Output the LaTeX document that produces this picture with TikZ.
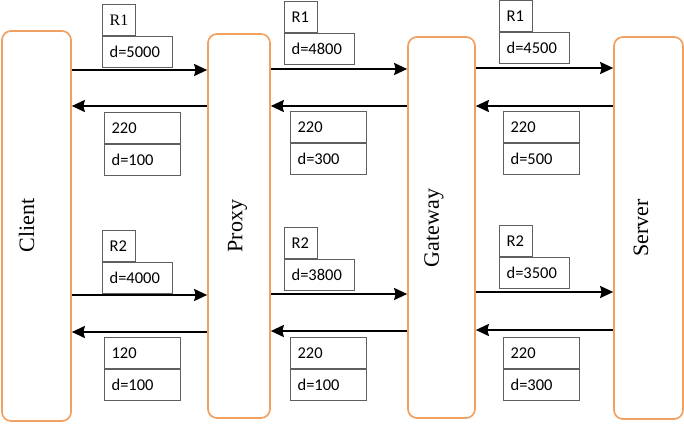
\documentclass[tikz,border=0pt]{standalone}
\usepackage{fontspec}
\setmainfont{Liberation Serif}
\newfontfamily\boxfont{Carlito}
\usetikzlibrary{arrows.meta}
\definecolor{laneorange}{RGB}{240,160,96}
\definecolor{boxgray}{RGB}{95,95,95}

\begin{document}
\begin{tikzpicture}[x=1pt, y=-1pt, >={Stealth[length=13pt, width=12pt, inset=1.5pt]},
    lane/.style={draw=laneorange, line width=1.7pt, rounded corners=9pt, inner sep=0pt},
    lanelabel/.style={rotate=90, inner sep=0pt, font=\fontsize{22}{26}\selectfont},
    msgbox/.style={draw=boxgray, line width=1.2pt, minimum height=31pt, inner xsep=7pt, inner ysep=0pt, align=left, font=\boxfont\fontsize{16.5}{19}\selectfont},
    tag/.style={msgbox, text width=19pt},
    req/.style={msgbox, text width=56pt},
    resp/.style={msgbox, text width=62pt},
    msg/.style={->, line width=2pt}]
    \useasboundingbox (0,0) rectangle (684,423);

    % Define lanes
    \node[lane, minimum width=69pt, minimum height=390pt] (client) at (36.5, 226) {};
    \node[lane, minimum width=62pt, minimum height=384pt] (proxy) at (239, 226) {};
    \node[lane, minimum width=67pt, minimum height=381pt] (gateway) at (441.5, 227.5) {};
    \node[lane, minimum width=69pt, minimum height=382pt] (server) at (648.5, 228) {};
    \node[lanelabel] (clientname) at (26.5, 225.5) {Client};
    \node[lanelabel] (proxyname) at (237.5, 226) {Proxy};
    \node[lanelabel] (gatewayname) at (434, 228) {Gateway};
    \node[lanelabel] (servername) at (641, 228) {Server};

    % Draw messages, first request
    \draw[msg] (client.east |- 0,70) -- (proxy.west |- 0,70); % Client -> Proxy
    \draw[msg] (proxy.east |- 0,69) -- (gateway.west |- 0,69); % Proxy -> Gateway
    \draw[msg] (gateway.east |- 0,68) -- (server.west |- 0,68); % Gateway -> Server
    \draw[msg] (proxy.west |- 0,106) -- (client.east |- 0,106); % Proxy -> Client
    \draw[msg] (gateway.west |- 0,106) -- (proxy.east |- 0,106); % Gateway -> Proxy
    \draw[msg] (server.west |- 0,106) -- (gateway.east |- 0,106); % Server -> Gateway

    % Draw messages, second request
    \draw[msg] (client.east |- 0,295) -- (proxy.west |- 0,295); % Client -> Proxy
    \draw[msg] (proxy.east |- 0,294) -- (gateway.west |- 0,294); % Proxy -> Gateway
    \draw[msg] (gateway.east |- 0,292) -- (server.west |- 0,292); % Gateway -> Server
    \draw[msg] (proxy.west |- 0,332) -- (client.east |- 0,332); % Proxy -> Client
    \draw[msg] (gateway.west |- 0,331) -- (proxy.east |- 0,331); % Gateway -> Proxy
    \draw[msg] (server.west |- 0,330) -- (gateway.east |- 0,330); % Server -> Gateway

    % Labels, first request
    \node[req, anchor=north west] (d1a) at (102, 36) {d=5000};
    \node[tag, anchor=south west, font=\fontsize{16}{19}\selectfont] (r1a) at (d1a.north west) {R1};
    \node[req, anchor=north west] (d1b) at (284, 33) {d=4800};
    \node[tag, anchor=south west] (r1b) at (d1b.north west) {R1};
    \node[req, anchor=north west] (d1c) at (499, 32) {d=4500};
    \node[tag, anchor=south west] (r1c) at (d1c.north west) {R1};
    \node[resp, anchor=north west] (s1a) at (104, 112) {220};
    \node[resp, anchor=north west] (t1a) at (s1a.south west) {d=100};
    \node[resp, anchor=north west] (s1b) at (290, 111) {220};
    \node[resp, anchor=north west] (t1b) at (s1b.south west) {d=300};
    \node[resp, anchor=north west] (s1c) at (503, 111) {220};
    \node[resp, anchor=north west] (t1c) at (s1c.south west) {d=500};

    % Labels, second request
    \node[req, anchor=north west] (d2a) at (102, 262) {d=4000};
    \node[tag, anchor=south west] (r2a) at (d2a.north west) {R2};
    \node[req, anchor=north west] (d2b) at (284, 259) {d=3800};
    \node[tag, anchor=south west] (r2b) at (d2b.north west) {R2};
    \node[req, anchor=north west] (d2c) at (499, 257) {d=3500};
    \node[tag, anchor=south west] (r2c) at (d2c.north west) {R2};
    \node[resp, anchor=north west] (s2a) at (104, 337) {120};
    \node[resp, anchor=north west] (t2a) at (s2a.south west) {d=100};
    \node[resp, anchor=north west] (s2b) at (290, 337) {220};
    \node[resp, anchor=north west] (t2b) at (s2b.south west) {d=100};
    \node[resp, anchor=north west] (s2c) at (503, 337) {220};
    \node[resp, anchor=north west] (t2c) at (s2c.south west) {d=300};
\end{tikzpicture}
\end{document}
